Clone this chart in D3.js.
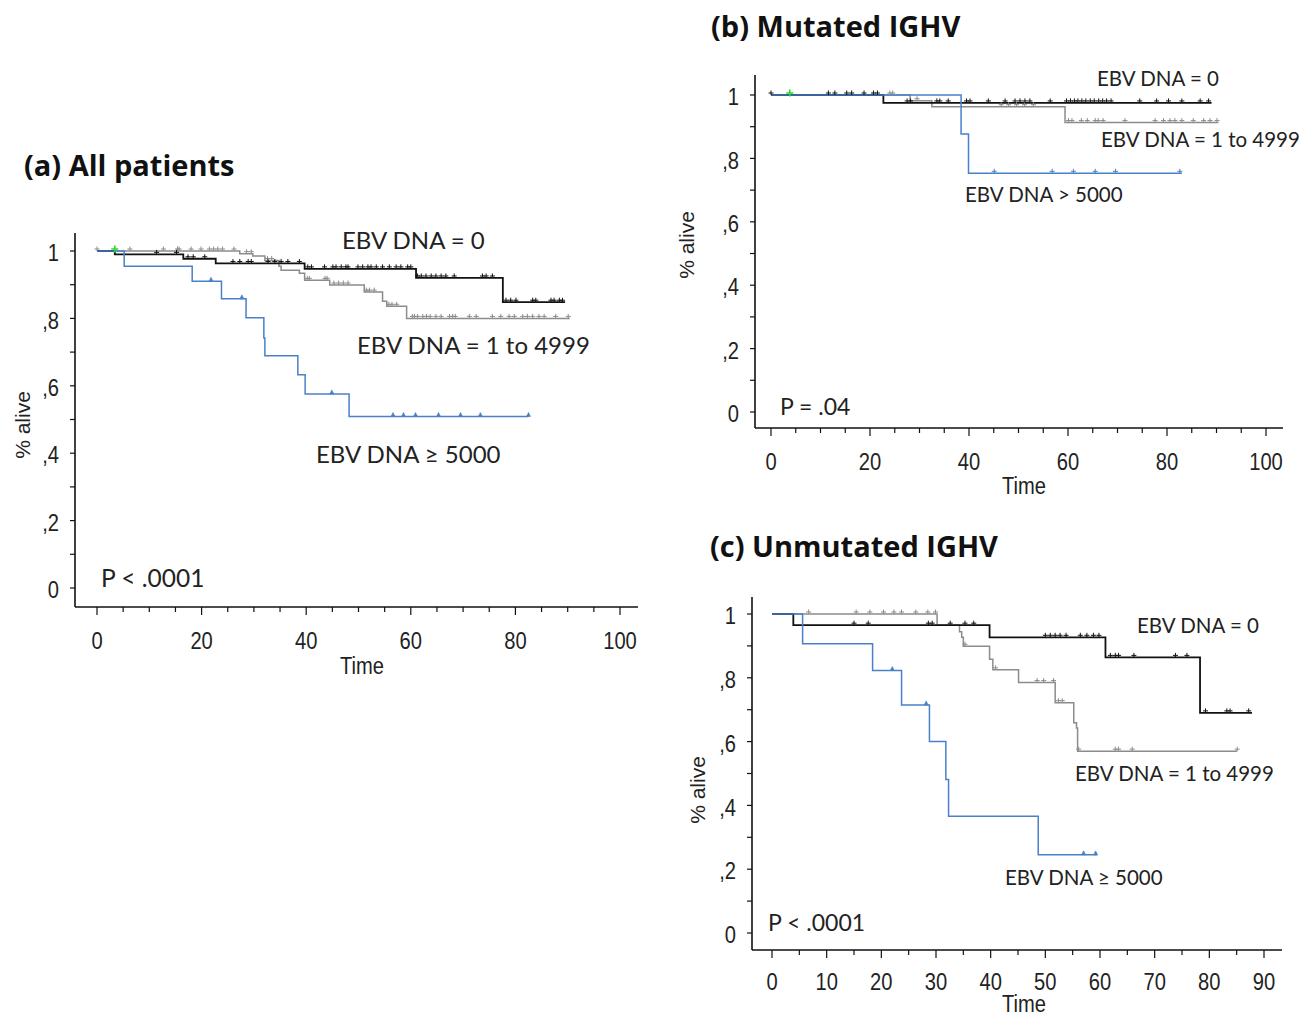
<!DOCTYPE html>
<html>
<head>
<meta charset="utf-8">
<script src="https://cdn.jsdelivr.net/npm/d3@7"></script>
<style>
  html, body { margin: 0; padding: 0; background: #fff; }
  svg { display: block; }
  .tick-lbl { font-family: "Liberation Sans", Arial, sans-serif; font-size: 24px; fill: #222; }
  .ylab { font-family: "Liberation Sans", Arial, sans-serif; font-size: 21px; fill: #222; }
  .title { font-family: "Open Sans", "Noto Sans", sans-serif; font-weight: 700; fill: #111; }
  .note { font-family: Lato, "Open Sans", sans-serif; fill: #222; }
</style>
</head>
<body>
<svg id="chart" width="1306" height="1017"></svg>
<script>
// ---------------------------------------------------------------------------
// Kaplan-Meier curves: [time, survival] at each step,
// last point = end of follow-up. Censor times listed separately.
// ---------------------------------------------------------------------------

// (a) All patients
const aZeroSteps = [[0, 1], [3.4, 0.99], [16.5, 0.977], [22.7, 0.963], [39.7, 0.947], [61.0, 0.92], [77.6, 0.848], [89.5, 0.848]];
const aZeroCensor = [11.4, 15.2, 17.4, 18.4, 20.6, 26.0, 27.3, 28.9, 29.5, 32.7, 34.0, 35.2, 36.5, 38.7,
  40.3, 41.0, 43.5, 45.1, 45.7, 46.7, 47.6, 48.0, 49.9, 50.8, 51.8, 52.4, 53.4, 54.6, 55.9, 57.2, 58.1, 59.4, 60.0,
  61.3, 62.0, 62.9, 63.9, 64.8, 65.8, 66.7, 68.3, 73.7, 74.4, 75.6,
  78.2, 79.1, 80.1, 83.3, 83.9, 86.8, 87.4, 88.4, 89.0];
const aLowSteps = [[0, 1], [27.3, 0.992], [29.8, 0.985], [32.1, 0.972], [34.8, 0.955], [35.2, 0.943], [38.7, 0.934],
  [39.7, 0.913], [44.5, 0.899], [51.1, 0.878], [54.6, 0.851], [55.4, 0.836], [59.2, 0.8], [90.4, 0.8]];
const aLowCensor = [0, 6.3, 12.7, 15.4, 15.7, 18.0, 19.9, 21.5, 22.3, 23.1, 24.0, 26.2, 28.6, 29.5, 32.6, 33.4,
  40.2, 40.6, 43.6, 44.0, 45.3, 46.2, 47.1, 48.0, 51.5, 52.1, 53.0, 55.8, 56.4, 57.3,
  60.3, 60.7, 61.3, 62.3, 63.0, 63.7, 64.8, 65.8, 67.4, 68.0, 68.5, 71.2, 72.5, 75.6, 77.2, 78.8, 79.8,
  81.4, 82.3, 83.3, 84.5, 85.5, 87.7, 90.1];
const aHighSteps = [[0, 1], [5.2, 0.955], [18.2, 0.91], [23.8, 0.858], [28.5, 0.802], [31.9, 0.742], [32.1, 0.689],
  [38.4, 0.633], [39.8, 0.576], [48.2, 0.509], [82.5, 0.509]];
const aHighCensor = [21.8, 27.7, 44.9, 56.6, 58.6, 60.9, 65.3, 69.5, 73.3, 82.5];
const aGreen = [3.4];

// (b) Mutated IGHV
const bZeroSteps = [[0, 1], [22.7, 0.975], [89.0, 0.975]];
const bZeroCensor = [0, 11.6, 12.9, 15.3, 16.3, 18.8, 20.7, 21.5, 27.5, 28.2, 33.5, 34.1, 35.8, 39.5, 40.2, 43.9, 47.3,
  49.3, 50.3, 51.3, 52.3, 56.4, 59.7, 60.5, 61.3, 62.0, 62.8, 63.6, 64.5, 65.3, 66.2, 67.0, 67.8, 68.7,
  74.5, 77.9, 80.3, 83.0, 86.7, 88.4];
const bLowSteps = [[0, 1], [28.1, 0.982], [32.5, 0.963], [59.4, 0.913], [90.4, 0.913]];
const bLowCensor = [24.0, 24.6, 29.5, 46.5, 48.0, 49.6, 51.2, 53.0,
  60.1, 60.8, 62.7, 63.9, 65.5, 66.1, 67.1, 71.5, 77.6, 79.3, 80.6, 81.6, 83.0, 85.3, 87.4, 88.7, 90.1];
const bHighSteps = [[0, 1], [38.4, 0.877], [39.9, 0.753], [83.0, 0.753]];
const bHighCensor = [45.1, 56.8, 61.1, 65.5, 69.6, 82.6];
const bGreen = [3.8];

// (c) Unmutated IGHV
const cZeroSteps = [[0, 1], [3.9, 0.965], [39.8, 0.927], [61.0, 0.864], [78.3, 0.69], [87.8, 0.69]];
const cZeroCensor = [15.0, 17.6, 28.6, 29.3, 32.6, 35.3, 36.9, 50.0, 50.9, 51.8, 52.7, 53.8, 56.4, 57.6, 58.8, 59.8,
  61.9, 62.8, 63.4, 66.2, 73.8, 75.9, 79.3, 83.2, 83.8, 87.2];
const cLowSteps = [[0, 1], [30.2, 0.965], [34.3, 0.944], [34.7, 0.927], [35.0, 0.899], [39.8, 0.858], [40.4, 0.825],
  [45.1, 0.785], [51.8, 0.722], [55.2, 0.659], [55.7, 0.643], [55.9, 0.57], [85.1, 0.57]];
const cLowCensor = [6.7, 15.4, 17.9, 20.4, 22.3, 23.7, 26.3, 28.5, 29.9, 35.3, 40.9, 48.5, 49.7, 51.5, 52.4, 53.1,
  56.1, 62.8, 63.4, 65.9, 85.1];
const cHighSteps = [[0, 1], [5.6, 0.907], [18.4, 0.823], [23.7, 0.715], [28.8, 0.6], [31.8, 0.481], [32.3, 0.366],
  [48.7, 0.245], [59.5, 0.245]];
const cHighCensor = [22.0, 28.2, 57.0, 59.2];

// Axis ticks
const survTicks = [0, 0.2, 0.4, 0.6, 0.8, 1];
const survMinor = [0.1, 0.3, 0.5, 0.7, 0.9];
const timeTicksAB = [0, 20, 40, 60, 80, 100];
const timeTicksC = [0, 10, 20, 30, 40, 50, 60, 70, 80, 90];

const BLACK = "#111111", GRAY = "#8c8c8c", BLUE = "#4a80c8", GREEN = "#22dd22";
const NARROW = 0.84; // tick font is a condensed Arial; squeeze Liberation Sans

const svg = d3.select("#chart");

function survLabel(v) {
  if (v === 0) return "0";
  if (v === 1) return "1";
  return "," + String(Math.round(v * 10));
}

function stepValue(steps, t) {
  let s = steps[0][1];
  for (const [st, sv] of steps) { if (st <= t) s = sv; else break; }
  return s;
}

function narrowText(g, x, y, str, anchor) {
  return g.append("text").attr("class", "tick-lbl")
    .attr("transform", `translate(${x},${y}) scale(${NARROW},1)`)
    .attr("text-anchor", anchor).attr("dominant-baseline", "central")
    .text(str);
}

function drawPanel(p) {
  const g = svg.append("g");
  const x = d3.scaleLinear().domain(p.xDomain).range(p.xRange);
  const y = d3.scaleLinear().domain([0, 1]).range(p.yRange);

  // axes lines
  g.append("line").attr("x1", p.axisX).attr("x2", p.axisX)
    .attr("y1", p.axisTop).attr("y2", p.axisY).attr("stroke", "#111").attr("stroke-width", 1.6);
  g.append("line").attr("x1", p.axisX).attr("x2", p.axisRight)
    .attr("y1", p.axisY).attr("y2", p.axisY).attr("stroke", "#111").attr("stroke-width", 1.6);

  // y ticks
  survTicks.concat(survMinor).forEach(v => {
    g.append("line").attr("x1", p.axisX - 5).attr("x2", p.axisX)
      .attr("y1", y(v)).attr("y2", y(v)).attr("stroke", "#111").attr("stroke-width", 1.2);
  });
  survTicks.forEach(v => narrowText(g, p.axisX - 16, y(v) + 2, survLabel(v), "end"));

  // x ticks (major labelled, minor every 5)
  d3.range(p.xDomain[0], p.xMaxTick + 0.01, 5).forEach(v => {
    const major = p.xTicks.includes(v);
    g.append("line").attr("x1", x(v)).attr("x2", x(v))
      .attr("y1", p.axisY).attr("y2", p.axisY + (major ? 8 : 5))
      .attr("stroke", "#111").attr("stroke-width", 1.2);
  });
  p.xTicks.forEach(v => narrowText(g, x(v), p.axisY + p.tickLblDy, String(v), "middle"));
  narrowText(g, p.timeX, p.axisY + p.timeDy, "Time", "middle");

  // y label
  g.append("text").attr("class", "ylab")
    .attr("transform", `translate(${p.ylabX},${p.ylabY}) rotate(-90)`)
    .attr("text-anchor", "middle").attr("dominant-baseline", "central")
    .text("% alive");

  // curves
  const line = d3.line().x(d => x(d[0])).y(d => y(d[1])).curve(d3.curveStepAfter);
  p.series.forEach(s => {
    g.append("path").attr("d", line(s.steps)).attr("fill", "none")
      .attr("stroke", s.color).attr("stroke-width", s.width || 1.5);
  });

  // censor marks
  p.series.forEach(s => {
    s.censor.forEach(t => {
      const cx = x(t), cy = y(stepValue(s.steps, t));
      if (s.mark === "tri") {
        g.append("path")
          .attr("d", `M${cx - 2},${cy} L${cx},${cy - 4} L${cx + 2},${cy} Z`)
          .attr("fill", s.color).attr("stroke", s.color).attr("stroke-width", 0.6);
      } else {
        g.append("path")
          .attr("d", `M${cx - 2.5},${cy - 2} H${cx + 2.5} M${cx},${cy - 4.5} V${cy}`)
          .attr("stroke", s.color).attr("stroke-width", 1).attr("fill", "none");
      }
    });
  });
  (p.green || []).forEach(t => {
    const cx = x(t), cy = y(1);
    g.append("path")
      .attr("d", `M${cx - 3.5},${cy - 2} H${cx + 3.5} M${cx},${cy - 5.5} V${cy + 1.5}`)
      .attr("stroke", GREEN).attr("stroke-width", 1.6).attr("fill", "none");
  });

  // title + annotations
  g.append("text").attr("class", "title")
    .attr("x", p.title.x).attr("y", p.title.y).attr("font-size", p.title.size)
    .text(p.title.text);
  p.notes.forEach(n => {
    g.append("text").attr("class", "note")
      .attr("x", n.x).attr("y", n.y).attr("font-size", n.size)
      .attr("dominant-baseline", "central")
      .text(n.text);
  });
}

drawPanel({
  xDomain: [0, 100], xRange: [97, 620], yRange: [588, 251],
  axisX: 75, axisY: 607, axisTop: 233, axisRight: 638,
  xTicks: timeTicksAB, xMaxTick: 100, tickLblDy: 34, timeDy: 59, timeX: 362,
  ylabX: 22, ylabY: 425,
  series: [
    { steps: aLowSteps, censor: aLowCensor, color: GRAY, mark: "plus" },
    { steps: aZeroSteps, censor: aZeroCensor, color: BLACK, mark: "plus", width: 1.8 },
    { steps: aHighSteps, censor: aHighCensor, color: BLUE, mark: "tri" },
  ],
  green: aGreen,
  title: { text: "(a) All patients", x: 24, y: 176, size: 29 },
  notes: [
    { text: "EBV DNA = 0", x: 342, y: 239, size: 24 },
    { text: "EBV DNA = 1 to 4999", x: 357, y: 344, size: 24 },
    { text: "EBV DNA \u2265 5000", x: 316, y: 453, size: 24 },
    { text: "P < .0001", x: 101, y: 577, size: 24.5 },
  ],
});

drawPanel({
  xDomain: [0, 100], xRange: [771, 1266], yRange: [412, 95],
  axisX: 755, axisY: 428, axisTop: 75, axisRight: 1283,
  xTicks: timeTicksAB, xMaxTick: 100, tickLblDy: 34, timeDy: 58, timeX: 1024,
  ylabX: 686, ylabY: 245,
  series: [
    { steps: bLowSteps, censor: bLowCensor, color: GRAY, mark: "plus" },
    { steps: bZeroSteps, censor: bZeroCensor, color: BLACK, mark: "plus", width: 1.8 },
    { steps: bHighSteps, censor: bHighCensor, color: BLUE, mark: "plus" },
  ],
  green: bGreen,
  title: { text: "(b) Mutated IGHV", x: 711, y: 37, size: 29 },
  notes: [
    { text: "EBV DNA = 0", x: 1097, y: 78, size: 20.5 },
    { text: "EBV DNA = 1 to 4999", x: 1101, y: 139, size: 20.5 },
    { text: "EBV DNA > 5000", x: 965, y: 194, size: 20.5 },
    { text: "P = .04", x: 780, y: 406, size: 23 },
  ],
});

drawPanel({
  xDomain: [0, 90], xRange: [772, 1264], yRange: [933, 614],
  axisX: 752, axisY: 950, axisTop: 597, axisRight: 1282,
  xTicks: timeTicksC, xMaxTick: 90, tickLblDy: 32, timeDy: 54, timeX: 1024,
  ylabX: 697, ylabY: 790,
  series: [
    { steps: cLowSteps, censor: cLowCensor, color: GRAY, mark: "plus" },
    { steps: cZeroSteps, censor: cZeroCensor, color: BLACK, mark: "plus", width: 1.8 },
    { steps: cHighSteps, censor: cHighCensor, color: BLUE, mark: "tri" },
  ],
  title: { text: "(c) Unmutated IGHV", x: 710, y: 557, size: 29 },
  notes: [
    { text: "EBV DNA = 0", x: 1137, y: 625, size: 20.5 },
    { text: "EBV DNA = 1 to 4999", x: 1075, y: 773, size: 20.5 },
    { text: "EBV DNA \u2265 5000", x: 1005, y: 877, size: 20.5 },
    { text: "P < .0001", x: 768, y: 922, size: 23 },
  ],
});
</script>
</body>
</html>
